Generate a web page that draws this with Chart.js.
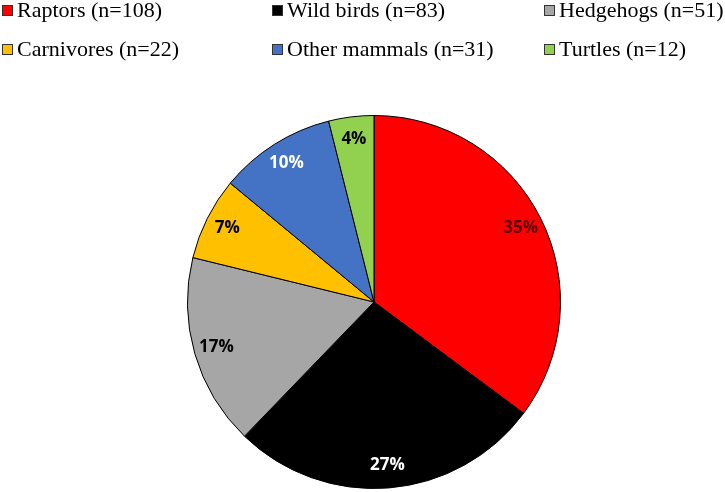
<!DOCTYPE html>
<html>
<head>
<meta charset="utf-8">
<script src="https://cdn.jsdelivr.net/npm/chart.js@4"></script>
<style>
  html, body { margin: 0; padding: 0; background: #fff; }
</style>
</head>
<body>
<canvas id="c" width="725" height="492"></canvas>
<script>
const categories = ["Raptors", "Wild birds", "Hedgehogs", "Carnivores", "Other mammals", "Turtles"];
const counts = [108, 83, 51, 22, 31, 12];
const colors = ["#ff0000", "#000000", "#a6a6a6", "#ffc000", "#4472c4", "#92d050"];
const labelColors = ["#5a0000", "#ffffff", "#000000", "#000000", "#ffffff", "#000000"];

const legendX = [2, 272, 544];
const legendBaseline = [17, 56];

const gridLegend = {
  id: 'gridLegend',
  afterDraw(chart) {
    const ctx = chart.ctx;
    ctx.save();
    ctx.font = '22px "Liberation Serif", "Times New Roman", serif';
    ctx.textAlign = 'left';
    ctx.textBaseline = 'alphabetic';
    chart.data.labels.forEach((name, i) => {
      const x = legendX[i % 3];
      const y = legendBaseline[Math.floor(i / 3)];
      ctx.fillStyle = chart.data.datasets[0].backgroundColor[i];
      ctx.fillRect(x + 0.5, y - 11.5, 10, 10);
      ctx.strokeStyle = '#333';
      ctx.lineWidth = 1;
      ctx.strokeRect(x + 0.5, y - 11.5, 10, 10);
      ctx.fillStyle = '#000';
      ctx.fillText(name + ' (n=' + chart.data.datasets[0].data[i] + ')', x + 15, y);
    });
    ctx.restore();
  }
};

const pctLabels = {
  id: 'pctLabels',
  afterDatasetsDraw(chart) {
    const ctx = chart.ctx;
    const meta = chart.getDatasetMeta(0);
    const data = chart.data.datasets[0].data;
    const total = data.reduce((a, b) => a + b, 0);
    ctx.save();
    ctx.font = 'bold 17px "Open Sans", "DejaVu Sans", sans-serif';
    ctx.textAlign = 'center';
    ctx.textBaseline = 'middle';
    meta.data.forEach((arc, i) => {
      const mid = (arc.startAngle + arc.endAngle) / 2;
      const r = arc.outerRadius * 0.88;
      const x = arc.x + Math.cos(mid) * r;
      const y = arc.y + Math.sin(mid) * r;
      ctx.fillStyle = labelColors[i];
      ctx.fillText(Math.round(data[i] / total * 100) + '%', x, y);
    });
    ctx.restore();
  }
};

new Chart(document.getElementById('c'), {
  type: 'pie',
  data: {
    labels: categories,
    datasets: [{
      data: counts,
      backgroundColor: colors,
      borderColor: '#000000',
      borderWidth: 1
    }]
  },
  options: {
    responsive: false,
    animation: false,
    layout: { padding: { top: 115, bottom: 3, left: 187, right: 164 } },
    plugins: { legend: { display: false }, tooltip: { enabled: false } }
  },
  plugins: [pctLabels, gridLegend]
});
</script>
</body>
</html>
